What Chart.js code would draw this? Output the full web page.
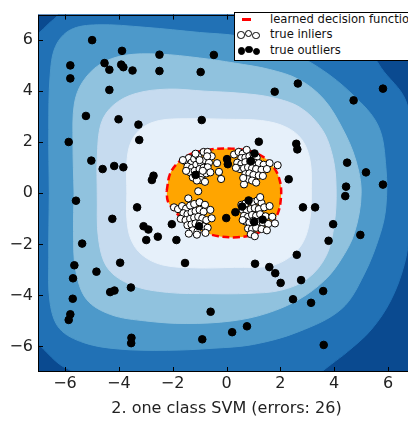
<!DOCTYPE html>
<html>
<head>
<meta charset="utf-8">
<script src="https://cdn.jsdelivr.net/npm/chart.js@4.4.1/dist/chart.umd.min.js"></script>
<style>
html,body{margin:0;padding:0;background:#fff;overflow:hidden;width:408px;height:421px;}
#wrap{position:absolute;left:0;top:0;width:420px;height:421px;}
#c{position:absolute;left:0;top:0;}
#legend{position:absolute;left:234px;top:12px;width:182px;height:47px;background:#fff;border:1px solid #000;font-family:"DejaVu Sans",sans-serif;font-size:11.6px;color:#111;}
#legend .lbl{position:absolute;left:35px;line-height:14px;white-space:nowrap;}
#legend .dash{position:absolute;left:7px;top:4.5px;width:9px;height:3px;background:#ff0000;}
#legend .dot{position:absolute;width:5.5px;height:5.5px;border:1px solid #000;border-radius:50%;}
#legend .w{background:#fff;}
#legend .b{background:#000;}
</style>
</head>
<body>
<div id="wrap">
<canvas id="c" width="420" height="421"></canvas>
<div id="legend">
  <span class="dash"></span><span class="lbl" style="top:-1px">learned decision function</span>
  <span class="dot w" style="left:2px;top:18px"></span><span class="dot w" style="left:9.5px;top:16.5px"></span><span class="dot w" style="left:17px;top:18.5px"></span>
  <span class="lbl" style="top:14px">true inliers</span>
  <span class="dot b" style="left:2.5px;top:34px"></span><span class="dot b" style="left:10px;top:32.5px"></span><span class="dot b" style="left:17.5px;top:34.5px"></span>
  <span class="lbl" style="top:30px">true outliers</span>
</div>
</div>
<script>
// ---------- data ----------
const AXIS_MIN = -7, AXIS_MAX = 7;
const xTickValues = [-6, -4, -2, 0, 2, 4, 6];
const yTickValues = [-6, -4, -2, 0, 2, 4, 6];
const xLabel = "2. one class SVM (errors: 26)";

// filled contour levels of the decision function (outer -> inner)
const contourA = [[AXIS_MIN, AXIS_MIN], [AXIS_MAX, AXIS_MIN], [AXIS_MAX, AXIS_MAX], [AXIS_MIN, AXIS_MAX]];
const contourB = [[-7.6,0],[-7.6,5.8],[-7.0,6.25],[-6.6,6.65],[-6.25,7.0],[-6.0,7.6],[0,7.6],[4.2,7.6],[4.55,7.0],[5.2,5.9],[5.74,4.92],[6.65,3.65],[6.85,2.0],[6.88,0],[6.8,-1.5],[6.6,-2.8],[6.1,-4.2],[5.37,-5.35],[4.5,-6.2],[3.9,-6.69],[3.42,-7.1],[3.0,-7.6],[-5.0,-7.6],[-5.6,-7.05],[-6.2,-6.7],[-6.8,-6.1],[-7.1,-5.8],[-7.6,-5.5]];
const contourC = [[-6.58,0],[-6.6,2.5],[-6.55,4.6],[-6.35,5.75],[-5.8,6.4],[-4.8,6.6],[-3.0,6.5],[-1.0,6.3],[0.5,6.15],[2.0,5.7],[3.42,4.93],[4.7,3.85],[5.64,2.63],[5.92,1.0],[5.92,-0.5],[5.71,-1.58],[5.1,-3.2],[4.27,-4.53],[2.68,-5.42],[1.0,-5.92],[-0.5,-6.07],[-2.2,-6.15],[-4.0,-6.1],[-5.3,-5.85],[-6.2,-5.3],[-6.55,-4.3],[-6.6,-2.5]];
const contourD = [[-5.66,0],[-5.7,2.0],[-5.65,3.5],[-5.35,4.35],[-4.7,5.05],[-3.8,5.4],[-2.5,5.45],[-1.0,5.3],[0.3,5.1],[1.6,4.85],[2.7,4.45],[3.6,3.7],[4.3,2.55],[4.8,1.3],[5.0,0.0],[4.75,-1.55],[4.25,-2.6],[3.65,-3.4],[2.7,-4.15],[1.5,-4.7],[0.2,-5.0],[-1.5,-5.1],[-3.0,-5.0],[-4.3,-4.75],[-5.2,-4.15],[-5.6,-3.0],[-5.68,-1.5]];
const contourE = [[-4.8,0],[-4.8,1.4],[-4.65,2.75],[-4.2,3.45],[-3.4,3.9],[-2.2,4.08],[-0.8,4.0],[0.5,3.92],[1.7,3.75],[2.75,3.35],[3.55,2.5],[3.95,1.4],[4.07,0.2],[4.0,-1.2],[3.7,-2.45],[3.0,-3.35],[2.0,-3.8],[0.8,-3.92],[-0.6,-3.93],[-2.2,-3.88],[-3.5,-3.6],[-4.4,-2.95],[-4.75,-1.8]];
const contourF = [[-3.7,0],[-3.7,1.2],[-3.55,2.0],[-3.15,2.55],[-2.5,2.85],[-1.5,2.92],[0,2.9],[1.3,2.85],[2.2,2.6],[2.8,2.1],[3.1,1.3],[3.15,0.2],[3.1,-1.0],[2.85,-1.9],[2.35,-2.5],[1.6,-2.85],[0.3,-2.9],[-1.2,-2.92],[-2.4,-2.8],[-3.15,-2.4],[-3.55,-1.8],[-3.7,-1.0]];
// learned decision function (threshold contour)
const decisionBoundary = [[-2.22,0.1],[-2.1,0.75],[-1.8,1.2],[-1.3,1.55],[-0.6,1.72],[0.2,1.75],[0.9,1.65],[1.4,1.4],[1.8,0.95],[2.0,0.4],[2.02,-0.2],[1.9,-0.8],[1.6,-1.25],[1.1,-1.58],[0.4,-1.72],[-0.3,-1.68],[-0.9,-1.5],[-1.5,-1.15],[-1.95,-0.65],[-2.18,-0.3]];

const inliers = [
[-1.55,1.27],[-1.40,1.38],[-1.30,1.20],[-1.20,1.35],[-1.05,1.45],[-0.85,1.62],[-0.70,1.62],[-1.45,1.05],[-1.28,1.00],[-1.12,1.12],[-0.95,1.18],[-0.80,1.30],[-0.65,1.20],[-1.35,0.82],[-1.18,0.88],[-1.00,0.95],[-0.85,1.00],[-0.70,1.02],[-0.28,0.84],[-1.05,0.72],[-0.90,0.72],[-0.75,0.78],[-0.95,0.52],[-0.80,0.45],[-0.20,0.56],[-1.25,0.62],[-1.10,0.50],[-0.55,1.45],[-0.72,1.45],[-1.50,0.88],[-0.60,0.82],[-1.00,1.30],[-0.88,0.88],[-1.15,1.55],[-0.35,1.18],[-1.62,1.30],
[0.28,1.52],[0.45,1.62],[0.60,1.55],[0.75,1.70],[0.55,1.38],[0.70,1.40],[0.85,1.45],[1.00,1.52],[1.12,1.40],[0.40,1.20],[0.55,1.15],[0.70,1.22],[0.88,1.25],[1.05,1.20],[1.20,1.18],[1.38,1.12],[1.60,1.18],[1.90,1.10],[0.50,0.95],[0.65,0.98],[0.80,1.02],[0.95,0.98],[1.10,0.95],[1.30,0.92],[1.50,0.95],[0.70,0.75],[0.85,0.78],[1.00,0.72],[1.20,0.70],[0.80,0.55],[0.95,0.50],[1.10,0.42],[0.65,0.35],[0.62,0.60],[1.35,0.68],[0.35,1.00],
[-1.95,-0.55],[-1.80,-0.62],[-1.65,-0.50],[-1.50,-0.60],[-1.35,-0.48],[-1.20,-0.42],[-1.00,-0.35],[-0.80,-0.45],[-1.60,-0.78],[-1.45,-0.82],[-1.30,-0.75],[-1.15,-0.70],[-1.00,-0.65],[-0.85,-0.72],[-0.60,-0.65],[-1.70,-1.00],[-1.52,-1.05],[-1.35,-1.00],[-1.20,-0.95],[-1.05,-0.92],[-0.90,-0.98],[-0.75,-1.05],[-1.45,-1.25],[-1.30,-1.22],[-1.15,-1.18],[-1.00,-1.20],[-0.85,-1.30],[-0.70,-1.35],[-1.25,-1.45],[-1.08,-1.50],[-1.40,-1.58],[-1.10,-1.62],[-0.78,-1.55],[-1.42,-0.20],[-1.05,0.08],[-0.55,-0.98],
[0.55,-0.45],[0.70,-0.40],[0.85,-0.30],[1.00,-0.35],[1.15,-0.28],[1.30,-0.38],[0.60,-0.65],[0.75,-0.70],[0.90,-0.62],[1.05,-0.58],[1.20,-0.62],[1.40,-0.55],[1.60,-0.50],[0.65,-0.88],[0.80,-0.92],[0.95,-0.85],[1.10,-0.88],[1.25,-0.82],[1.45,-0.90],[1.70,-0.92],[0.70,-1.10],[0.85,-1.15],[1.00,-1.08],[1.18,-1.12],[1.35,-1.15],[1.55,-1.20],[1.80,-1.18],[0.80,-1.38],[0.95,-1.40],[1.10,-1.35],[1.30,-1.40],[1.50,-1.45],[0.90,-1.60],[1.05,-1.68],[0.60,-1.05],[1.25,-0.15]
];

const outliers = [
[-4.99,6.00],[-3.88,5.58],[-2.49,5.43],[-0.47,5.42],[-5.80,5.01],[-5.80,4.50],[-4.53,5.10],[-4.35,4.84],[-3.91,5.04],[-3.83,4.94],[-3.49,4.81],[-2.49,4.79],[-0.96,4.75],[-4.35,4.05],[2.65,4.30],[1.79,3.98],[5.81,4.10],[4.72,3.64],[-5.22,3.03],[-4.01,2.90],[-3.27,2.69],[-0.92,2.87],[-3.24,2.09],[-5.86,2.01],[2.59,1.94],[2.63,1.72],[1.20,2.02],[-5.02,1.28],[-4.60,0.95],[-4.17,1.07],[-3.83,1.02],[-2.71,0.69],[-2.77,0.52],[4.48,1.20],[5.18,0.82],[2.31,0.55],[4.44,0.26],[5.81,0.34],[4.41,-0.11],[-5.59,-0.29],[-3.32,-0.55],[2.84,-0.55],[3.29,-0.55],[-4.24,-1.00],[-3.08,-1.29],[-2.90,-1.42],[-2.03,-1.21],[-2.98,-1.83],[-2.55,-1.70],[-1.86,-1.83],[-5.36,-1.97],[3.96,-1.21],[4.97,-1.63],[3.79,-1.86],[2.61,-2.41],[-1.54,-2.73],[-3.95,-2.72],[1.06,-2.76],[1.59,-2.89],[1.81,-3.13],[2.01,-3.51],[2.77,-3.40],[-5.65,-2.82],[-4.83,-3.07],[-5.70,-3.33],[-3.55,-3.69],[-4.32,-3.87],[-4.16,-3.81],[-5.71,-4.13],[3.59,-3.83],[2.47,-4.15],[3.14,-4.29],[-5.80,-4.74],[-5.86,-4.96],[-0.59,-4.64],[0.76,-5.21],[0.21,-5.44],[-0.90,-5.72],[-3.53,-5.66],[-3.54,-5.87],[3.61,-5.94],
[0.02,1.34],[0.05,1.14],[1.04,1.56],[0.91,1.26],[-1.15,0.72],[0.82,-0.28],[0.58,-0.52],[0.33,-0.74],[-0.01,-0.97],[1.03,-1.12],[1.34,-1.03],[-1.02,-1.29]
];

// ---------- styles ----------
const bandColors = ['#0a4a90', '#2171b5', '#4d99ca', '#90c2de', '#c6dbef', '#e6f0fa'];
const bands = [contourA, contourB, contourC, contourD, contourE, contourF];
const FONT = 'DejaVu Sans';

const toPts = a => a.map(([x, y]) => ({x, y}));
const closed = a => { const p = toPts(a); p.push({...p[0]}); return p; };
const fmt = v => v < 0 ? '\u2212' + Math.abs(v) : String(v);

const datasets = bands.map((b, i) => ({
  data: closed(b), showLine: true, fill: 'shape',
  backgroundColor: bandColors[i], borderColor: bandColors[i], borderWidth: 1,
  pointRadius: 0, tension: i === 0 ? 0 : 0.35, order: 30 - i
}));
datasets.push({
  label: 'learned decision function',
  data: closed(decisionBoundary), showLine: true, fill: 'shape',
  backgroundColor: '#ffa500', borderColor: '#ff0000', borderWidth: 2.5, borderDash: [7, 3.5],
  pointRadius: 0, tension: 0.35, order: 5
});
datasets.push({
  label: 'true inliers', data: toPts(inliers), showLine: false,
  pointRadius: 3.6, pointBackgroundColor: '#ffffff', pointBorderColor: '#000000', pointBorderWidth: 1, order: 2
});
datasets.push({
  label: 'true outliers', data: toPts(outliers), showLine: false,
  pointRadius: 3.8, pointBackgroundColor: '#000000', pointBorderColor: '#000000', pointBorderWidth: 1, order: 1
});

const frame = {
  id: 'frame',
  afterDatasetsDraw(chart) {
    const {ctx, chartArea: {left, right, top, bottom}, scales: {x, y}} = chart;
    ctx.save();
    ctx.strokeStyle = '#000'; ctx.lineWidth = 1;
    ctx.beginPath();
    xTickValues.forEach(v => {
      const px = Math.round(x.getPixelForValue(v)) + 0.5;
      ctx.moveTo(px, bottom); ctx.lineTo(px, bottom - 5);
      ctx.moveTo(px, top); ctx.lineTo(px, top + 5);
    });
    yTickValues.forEach(v => {
      const py = Math.round(y.getPixelForValue(v)) + 0.5;
      ctx.moveTo(left, py); ctx.lineTo(left + 5, py);
      ctx.moveTo(right, py); ctx.lineTo(right - 5, py);
    });
    ctx.stroke();
    ctx.strokeRect(Math.round(left) + 0.5, Math.round(top) + 0.5, Math.round(right - left) - 1, Math.round(bottom - top) - 1);
    ctx.restore();
  }
};

new Chart(document.getElementById('c'), {
  type: 'scatter',
  data: {datasets},
  plugins: [frame],
  options: {
    responsive: false, animation: false, events: [], devicePixelRatio: 1,
    layout: {padding: {left: 0, right: 3, top: 5, bottom: 0}},
    elements: {line: {capBezierPoints: false}},
    plugins: {legend: {display: false}, tooltip: {enabled: false}},
    scales: {
      x: {
        type: 'linear', min: AXIS_MIN, max: AXIS_MAX,
        afterBuildTicks: s => { s.ticks = xTickValues.map(v => ({value: v})); },
        afterFit: s => { s.height = 49; },
        grid: {display: false, drawTicks: false}, border: {display: false},
        ticks: {padding: 2, autoSkip: false, maxRotation: 0, color: '#222', font: {family: FONT, size: 16}, callback: v => fmt(v)},
        title: {display: true, text: xLabel, color: '#222', font: {family: FONT, size: 16}, padding: {top: 0, bottom: 3}}
      },
      y: {
        type: 'linear', min: AXIS_MIN, max: AXIS_MAX,
        afterBuildTicks: s => { s.ticks = yTickValues.map(v => ({value: v})); },
        afterFit: s => { s.width = 38; },
        grid: {display: false, drawTicks: false}, border: {display: false},
        ticks: {padding: 5, autoSkip: false, color: '#222', font: {family: FONT, size: 16}, callback: v => fmt(v)}
      }
    }
  }
});
</script>
</body>
</html>
